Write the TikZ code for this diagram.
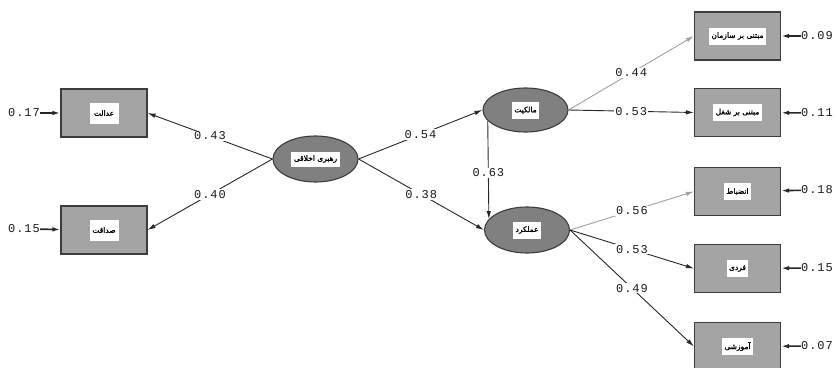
\documentclass[tikz,border=0pt]{standalone}
\usepackage{fontspec}
\TeXXeTstate=1
\newfontfamily\fa[Script=Arabic,FakeBold=1.5]{DejaVu Sans}
\newfontfamily\numf[LetterSpace=8]{Liberation Mono}
\usetikzlibrary{shapes.geometric,arrows.meta}
\definecolor{boxgray}{RGB}{164,164,164}
\definecolor{ellgray}{RGB}{128,128,128}
\definecolor{edgegray}{RGB}{60,60,60}
\definecolor{lightarr}{RGB}{160,160,160}
\begin{document}
\begin{tikzpicture}[x=1pt,y=-1pt,
  box/.style={rectangle, draw=edgegray, line width=1.1pt, fill=boxgray, minimum width=86pt, minimum height=48pt, inner sep=0pt},
  lat/.style={ellipse, draw=edgegray, line width=1.1pt, fill=ellgray, minimum width=85pt, minimum height=46pt, inner sep=0pt},
  tag/.style={rectangle, fill=white, inner sep=2.5pt, minimum height=17pt, font=\fa\fontsize{7.5}{9}\selectfont, text=black},
  coef/.style={fill=white, inner sep=1pt, font=\numf\fontsize{12}{14}\selectfont, text=black!90},
  arr/.style={-{Latex[length=8pt,width=4.5pt]}, line width=0.9pt, draw=black!85},
  garr/.style={arr, draw=lightarr},
  err/.style={arr, line width=1.6pt}
]
\useasboundingbox (0,0) rectangle (835,367);
\clip (0,0) rectangle (835,367);

% left indicators
\node[box] (b1) at (104,113) {};
\node[tag, minimum height=21pt, minimum width=29pt] (b1t) at (b1) {\beginR عدالت\endR};
\node[box] (b2) at (104,230) {};
\node[tag, minimum height=21pt, minimum width=29pt] (b2t) at (b2) {\beginR صداقت\endR};

% latent variables
\node[lat] (c) at (315.5,159) {};
\node[tag, minimum height=15pt] (ct) at (c) {\beginR رهبری اخلاقی\endR};
\node[lat, minimum height=44pt] (m) at (525.5,110) {};
\node[tag] (mt) at (m) {\beginR مالکیت\endR};
\node[lat] (a) at (527,230) {};
\node[tag] (at) at (a) {\beginR عملکرد\endR};

% right indicators
\node[box] (r1) at (737.5,36) {};
\node[tag] (r1t) at (r1) {\beginR مبتنی بر سازمان\endR};
\node[box] (r2) at (737.5,112.5) {};
\node[tag] (r2t) at (r2) {\beginR مبتنی بر شغل\endR};
\node[box] (r3) at (737.5,191.5) {};
\node[tag] (r3t) at (r3) {\beginR انضباط\endR};
\node[box] (r4) at (737.5,268.5) {};
\node[tag] (r4t) at (r4) {\beginR فردی\endR};
\node[box] (r5) at (737.5,346.5) {};
\node[tag] (r5t) at (r5) {\beginR آموزشی\endR};

% error terms
\node[coef, inner sep=0pt] (e1) at (24,113) {0.17};
\node[coef, inner sep=0pt] (e2) at (24,229) {0.15};
\node[coef, inner sep=0pt] (e3) at (817,36) {0.09};
\node[coef, inner sep=0pt] (e4) at (817,113) {0.11};
\node[coef, inner sep=0pt] (e5) at (817,190) {0.18};
\node[coef, inner sep=0pt] (e6) at (817,268) {0.15};
\node[coef, inner sep=0pt] (e7) at (817,346) {0.07};
\draw[err] (e1) -- (b1);
\draw[err] (e2) -- (b2);
\draw[err] (e3) -- (r1);
\draw[err] (e4) -- (r2);
\draw[err] (e5) -- (r3);
\draw[err] (e6) -- (r4);
\draw[err] (e7) -- (r5);

% structural paths
\draw[arr] (c.west) -- node[coef]{0.43} (b1.east);
\draw[arr] (c.west) -- node[coef]{0.40} (b2.east);
\draw[arr] (c.east) -- node[coef]{0.54} (m.west);
\draw[arr] (c.east) -- node[coef]{0.38} (a.west);
\draw[arr] (m.196) -- node[coef, pos=0.53]{0.63} (a.164);

\draw[garr] (m.east) -- node[coef]{0.44} (r1.west);
\draw[arr] (m.east) -- node[coef]{0.53} (r2.west);
\draw[garr] (a.east) -- node[coef]{0.56} (r3.west);
\draw[arr] (a.east) -- node[coef]{0.53} (r4.west);
\draw[arr] (a.east) -- node[coef]{0.49} (r5.west);
\end{tikzpicture}
\end{document}
